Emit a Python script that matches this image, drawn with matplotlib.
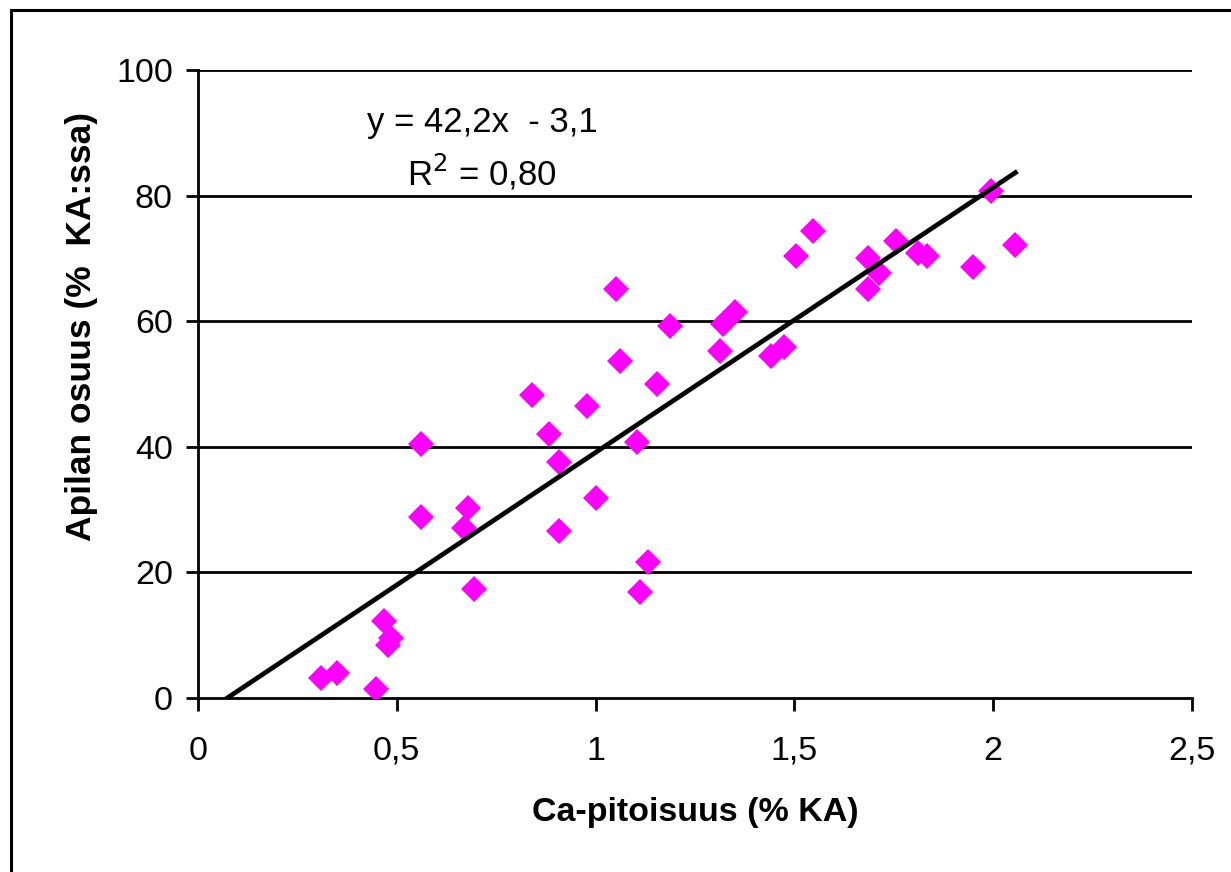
import numpy as np
import matplotlib.pyplot as plt
from matplotlib.patches import Rectangle

plt.rcParams['font.family'] = ['Liberation Sans', 'DejaVu Sans']

# Ca content (% DM) and clover share (% of DM)
ca = [0.309, 0.350, 0.448, 0.468, 0.485, 0.477, 0.560, 0.560, 0.680, 0.670,
      0.693, 0.840, 0.882, 0.909, 0.909, 0.979, 1.000, 1.051, 1.062, 1.105,
      1.112, 1.133, 1.154, 1.188, 1.313, 1.321, 1.350, 1.440, 1.475, 1.504,
      1.546, 1.686, 1.686, 1.714, 1.756, 1.810, 1.834, 1.950, 1.994, 2.056]
clover = [3.2, 4.0, 1.4, 12.3, 9.5, 8.5, 40.4, 28.8, 30.2, 27.1,
          17.3, 48.3, 42.1, 37.5, 26.6, 46.5, 31.9, 65.1, 53.6, 40.7,
          16.8, 21.7, 50.0, 59.3, 55.3, 59.6, 61.5, 54.5, 55.9, 70.4,
          74.4, 70.1, 65.1, 67.6, 72.8, 70.9, 70.4, 68.7, 80.7, 72.2]

slope = 42.2
intercept = -3.1
eq_text = "y = 42,2x  - 3,1"
r2_text = "R$^2$ = 0,80"

xticks = [0, 0.5, 1, 1.5, 2, 2.5]
xtick_labels = ["0", "0,5", "1", "1,5", "2", "2,5"]
yticks = [0, 20, 40, 60, 80, 100]

W, H = 1231, 872
fig = plt.figure(figsize=(W / 100, H / 100), dpi=100)
ax = fig.add_axes([198 / W, 1 - 698 / H, (1192 - 198) / W, (698 - 70) / H])

# outer chart frame (only left/top edges fall inside the image)
fig.patches.append(Rectangle((10.5 / W, -0.1), 1.2, 1 - 10 / H + 0.1,
                             transform=fig.transFigure, fill=False,
                             edgecolor='black', linewidth=2.2))

for yv in yticks[1:]:
    ax.axhline(yv, color='black', linewidth=2, zorder=1)

ax.plot(ca, clover, linestyle='none', marker='D', markersize=13,
        color='#ff00ff', markeredgewidth=0, zorder=3)

# trendline drawn on top of the markers, clipped at y = 0
x0 = -intercept / slope
x1 = max(ca)
xl = np.array([x0, x1])
ax.plot(xl, slope * xl + intercept, color='black', linewidth=3.4, zorder=4)

ax.set_xlim(0, 2.5)
ax.set_ylim(0, 100)
ax.set_xticks(xticks)
ax.set_xticklabels(xtick_labels)
ax.set_yticks(yticks)
ax.tick_params(labelsize=24.5, width=2, length=9, direction='out', color='black')
ax.tick_params(axis='x', pad=18)
ax.tick_params(axis='y', pad=9)

for s in ['top', 'right']:
    ax.spines[s].set_visible(False)
for s in ['left', 'bottom']:
    ax.spines[s].set_linewidth(2)

ax.text(0.714, 91.6, eq_text, fontsize=25, ha='center', va='center')
ax.text(0.714, 83.7, r2_text, fontsize=25, ha='center', va='center')

ax.set_xlabel("Ca-pitoisuus (% KA)", fontsize=24.5, fontweight='bold', labelpad=22)
fig.text(82 / W, 1 - 326 / H, "Apilan osuus (%  KA:ssa)", fontsize=25.5,
         fontweight='bold', rotation=90, ha='center', va='center')

fig.savefig("out.png", dpi=100)
